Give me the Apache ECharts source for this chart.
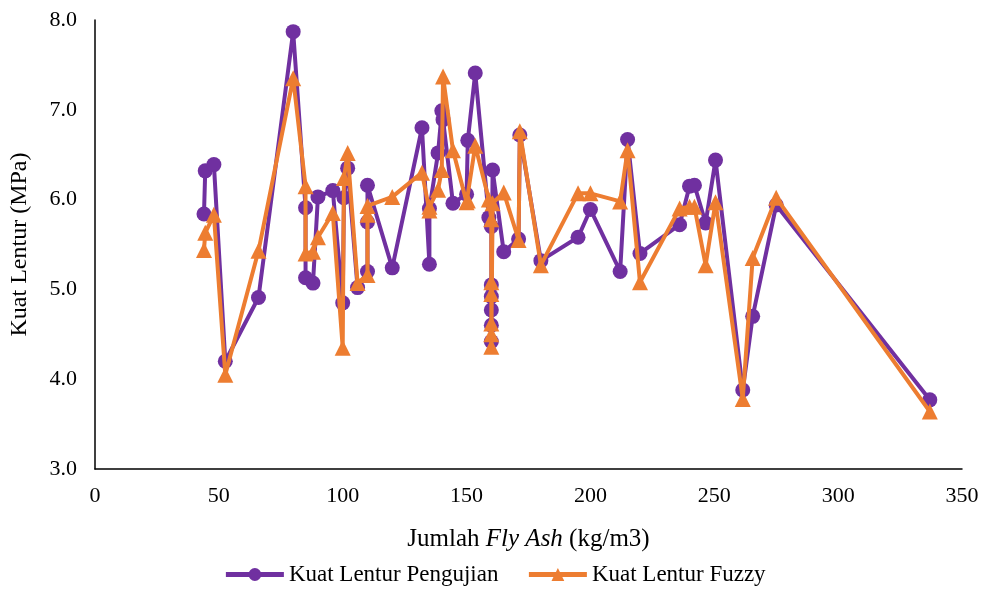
<!DOCTYPE html>
<html>
<head>
<meta charset="utf-8">
<script src="https://cdn.jsdelivr.net/npm/echarts@6/dist/echarts.min.js"></script>
<style>
  html, body { margin: 0; padding: 0; background: #fff; }
  #chart { width: 989px; height: 593px; }
</style>
</head>
<body>
<div id="chart"></div>
<script>
// jumlah fly ash per sampel (kg/m3)
const flyAsh = [
  44, 44.5, 48, 52.6, 66, 80, 85, 85, 88, 90, 96, 100, 100.5, 102, 106,
  110, 110, 110, 120, 132, 135, 135, 138.5, 140, 140.5, 144.5, 150, 150.5, 153.5,
  159, 160, 160, 160, 160, 160, 160, 160.5, 165, 171, 171.5, 180, 195, 200,
  212, 215, 220, 236, 240, 242, 246.5, 250.5, 261.5, 265.5, 275, 337
]
// kuat lentur hasil pengujian (MPa)
const kuatUji = [
  5.84, 6.32, 6.39, 4.20, 4.91, 7.87, 5.91, 5.13, 5.07, 6.03, 6.10, 4.85, 6.02, 6.35, 5.02,
  5.20, 5.75, 6.16, 5.24, 6.80, 5.28, 5.90, 6.52, 6.99, 6.89, 5.96, 6.06, 6.66, 7.41,
  5.80, 5.70, 5.05, 4.92, 4.77, 4.60, 4.42, 6.33, 5.42, 5.56, 6.72, 5.32, 5.58, 5.89,
  5.20, 6.67, 5.40, 5.72, 6.15, 6.16, 5.74, 6.44, 3.88, 4.70, 5.94, 3.77
]
// kuat lentur hasil fuzzy (MPa)
const kuatFuzzy = [
  5.44, 5.63, 5.83, 4.05, 5.43, 7.35, 6.15, 5.40, 5.42, 5.58, 5.85, 4.35, 6.24, 6.52, 5.07,
  5.16, 5.83, 5.93, 6.03, 6.30, 5.88, 5.92, 6.11, 6.33, 7.37, 6.55, 5.97, 5.99, 6.60,
  6.00, 5.78, 5.08, 4.95, 4.62, 4.50, 4.36, 5.96, 6.08, 5.55, 6.76, 5.27, 6.07, 6.07,
  5.98, 6.55, 5.08, 5.90, 5.92, 5.92, 5.27, 5.97, 3.78, 5.35, 6.02, 3.64
]

const font = '"Liberation Serif", "Times New Roman", serif'
const ungu = '#7030A0'
const oranye = '#ED7D31'

const chart = echarts.init(document.getElementById('chart'))

const option = {
  animation: false,
  backgroundColor: '#fff',
  grid: { left: 95, right: 27, top: 20, bottom: 124 },
  xAxis: {
    type: 'value',
    min: 0,
    max: 350,
    interval: 50,
    name: '{n|Jumlah }{i|Fly Ash}{n| (kg/m3)}',
    nameLocation: 'middle',
    nameGap: 58,
    nameTextStyle: {
      rich: {
        n: { fontFamily: font, fontSize: 25, color: '#000' },
        i: { fontFamily: font, fontSize: 25, color: '#000', fontStyle: 'italic' },
      },
    },
    axisLine: { show: true, lineStyle: { color: '#000', width: 1.5 } },
    axisTick: { show: false },
    axisLabel: { color: '#000', fontFamily: font, fontSize: 22, margin: 16 },
    splitLine: { show: false },
  },
  yAxis: {
    type: 'value',
    min: 3,
    max: 8,
    interval: 1,
    name: 'Kuat Lentur (MPa)',
    nameLocation: 'middle',
    nameGap: 63,
    nameTextStyle: { color: '#000', fontFamily: font, fontSize: 24 },
    axisLine: { show: true, lineStyle: { color: '#000', width: 1.5 } },
    axisTick: { show: false },
    axisLabel: {
      color: '#000',
      fontFamily: font,
      fontSize: 22,
      margin: 18,
      formatter: v => v.toFixed(1),
    },
    splitLine: { show: false },
  },
  legend: {
    bottom: 2,
    left: 'center',
    itemGap: 28,
    itemWidth: 58,
    itemHeight: 16,
    textStyle: { color: '#000', fontFamily: font, fontSize: 23 },
    lineStyle: { width: 5 },
    data: ['Kuat Lentur Pengujian', 'Kuat Lentur Fuzzy'],
  },
  series: [
    {
      name: 'Kuat Lentur Pengujian',
      type: 'line',
      data: flyAsh.map((x, i) => [x, kuatUji[i]]),
      symbol: 'circle',
      symbolSize: 15,
      showAllSymbol: true,
      lineStyle: { color: ungu, width: 4 },
      itemStyle: { color: ungu },
      z: 2,
    },
    {
      name: 'Kuat Lentur Fuzzy',
      type: 'line',
      data: flyAsh.map((x, i) => [x, kuatFuzzy[i]]),
      symbol: 'triangle',
      symbolSize: 16,
      showAllSymbol: true,
      lineStyle: { color: oranye, width: 4 },
      itemStyle: { color: oranye },
      z: 3,
    },
  ],
}

chart.setOption(option)
</script>
</body>
</html>
